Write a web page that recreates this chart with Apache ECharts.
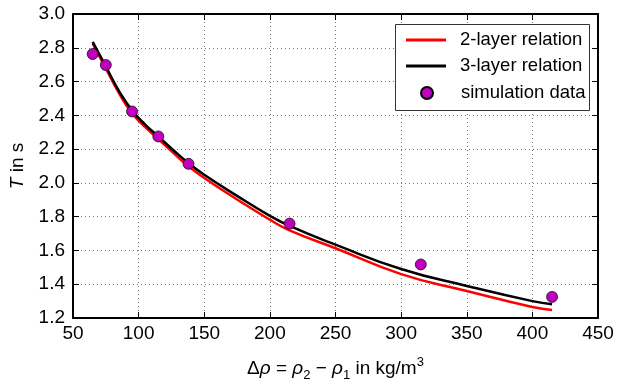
<!DOCTYPE html>
<html>
<head>
<meta charset="utf-8">
<script src="https://cdn.jsdelivr.net/npm/echarts@6/dist/echarts.min.js"></script>
<style>
html,body{margin:0;padding:0;background:#fff;}
#chart{width:618px;height:387px;}
</style>
</head>
<body>
<div id="chart"></div>
<script>
// Curve sample positions (Δρ in kg/m³) and read-off values (T in s)
var curveX = [65, 75, 85, 95, 105, 115, 127, 138, 150, 175, 200, 215, 250, 300, 350, 400, 415];
var twoLayerT = [2.825, 2.678, 2.532, 2.412, 2.330, 2.260, 2.173, 2.098, 2.029, 1.902, 1.782, 1.719, 1.613, 1.460, 1.360, 1.265, 1.248];
var threeLayerT = [2.835, 2.690, 2.545, 2.430, 2.345, 2.275, 2.190, 2.117, 2.048, 1.923, 1.805, 1.745, 1.634, 1.490, 1.390, 1.300, 1.282];
// Simulation data points
var simX = [65, 75, 95, 115, 138, 215, 315, 415];
var simT = [2.763, 2.698, 2.423, 2.275, 2.113, 1.759, 1.517, 1.325];
// Axis ticks
var xTicks = [50, 100, 150, 200, 250, 300, 350, 400, 450];
var yTicks = [1.2, 1.4, 1.6, 1.8, 2.0, 2.2, 2.4, 2.6, 2.8, 3.0];
var seriesNames = ['2-layer relation', '3-layer relation', 'simulation data'];

function pairs(xs, ys) { return xs.map(function (x, i) { return [x, ys[i]]; }); }

var FONT = '"Liberation Sans", Arial, Helvetica, sans-serif';
var chart = echarts.init(document.getElementById('chart'), null, {renderer: 'canvas'});

var gridLine = {show: true, lineStyle: {color: '#777', width: 1, type: [1, 3]}};
var frameLine = {show: true, onZero: false, lineStyle: {color: '#000', width: 2}};
var tickIn = {show: true, inside: true, length: 6, lineStyle: {color: '#000', width: 1}};

function legendText(pad) {
  return {
    color: '#000', fontSize: 18.5, fontFamily: FONT, lineHeight: 20,
    rich: {a: {color: '#000', fontSize: 18.5, fontFamily: FONT, lineHeight: 20, padding: [0, 0, 0, pad]}}
  };
}

var option = {
  animation: false,
  backgroundColor: '#fff',
  grid: {left: 71, right: 20, top: 14, bottom: 61, containLabel: false},
  xAxis: [{
    type: 'value', position: 'bottom',
    min: xTicks[0], max: xTicks[xTicks.length - 1], interval: xTicks[1] - xTicks[0],
    axisLine: frameLine, axisTick: tickIn, splitLine: gridLine,
    axisLabel: {color: '#000', fontSize: 19, fontFamily: FONT, margin: 6},
    name: '{n|Δ}{i|ρ}{n| = }{i|ρ}{s|2}{n| − }{i|ρ}{s|1}{n| in kg/m}{p|3}',
    nameLocation: 'middle', nameGap: 38,
    nameTextStyle: {
      color: '#000', fontFamily: FONT, fontSize: 19,
      rich: {
        n: {fontSize: 19, fontFamily: FONT, color: '#000', lineHeight: 26, verticalAlign: 'middle'},
        i: {fontSize: 19, fontFamily: FONT, fontStyle: 'italic', color: '#000', lineHeight: 26, verticalAlign: 'middle'},
        s: {fontSize: 13, fontFamily: FONT, color: '#000', lineHeight: 26, verticalAlign: 'bottom'},
        p: {fontSize: 13, fontFamily: FONT, color: '#000', lineHeight: 26, verticalAlign: 'top'}
      }
    }
  }, {
    type: 'value', position: 'top',
    min: xTicks[0], max: xTicks[xTicks.length - 1], interval: xTicks[1] - xTicks[0],
    axisLine: frameLine, axisTick: tickIn, splitLine: {show: false}, axisLabel: {show: false}
  }],
  yAxis: [{
    type: 'value', position: 'left',
    min: yTicks[0], max: yTicks[yTicks.length - 1], interval: 0.2,
    axisLine: frameLine, axisTick: tickIn, splitLine: gridLine,
    axisLabel: {color: '#000', fontSize: 19, fontFamily: FONT, margin: 8,
      formatter: function (v) { return v.toFixed(1); }},
    name: '{i|T}{n| in s}', nameLocation: 'middle', nameRotate: 90, nameGap: 46,
    nameTextStyle: {
      color: '#000', fontFamily: FONT, fontSize: 19,
      rich: {
        n: {fontSize: 19, fontFamily: FONT, color: '#000'},
        i: {fontSize: 19, fontFamily: FONT, fontStyle: 'italic', color: '#000'}
      }
    }
  }, {
    type: 'value', position: 'right',
    min: yTicks[0], max: yTicks[yTicks.length - 1], interval: 0.2,
    axisLine: frameLine, axisTick: tickIn, splitLine: {show: false}, axisLabel: {show: false}
  }],
  graphic: [{
    type: 'rect', left: 395, top: 24, z: 50,
    shape: {width: 194, height: 86},
    style: {fill: '#fff', stroke: '#333', lineWidth: 1}
  }],
  legend: [{
    data: [seriesNames[0], seriesNames[1]],
    orient: 'vertical', left: 401, top: 25, z: 60,
    itemWidth: 40, itemHeight: 3, itemGap: 6, icon: 'rect',
    formatter: function (n) { return '{a|' + n + '}'; },
    textStyle: legendText(9)
  }, {
    data: [seriesNames[2]],
    orient: 'vertical', left: 415, top: 78, z: 60,
    itemWidth: 12, itemHeight: 12, icon: 'circle',
    formatter: function (n) { return '{a|' + n + '}'; },
    textStyle: legendText(23)
  }],
  series: [{
    name: seriesNames[0], type: 'line', smooth: 0.5, symbol: 'none',
    xAxisIndex: 0, yAxisIndex: 0, z: 3,
    lineStyle: {color: '#ff0000', width: 2.5}, itemStyle: {color: '#ff0000'},
    data: pairs(curveX, twoLayerT)
  }, {
    name: seriesNames[1], type: 'line', smooth: 0.5, symbol: 'none',
    xAxisIndex: 0, yAxisIndex: 0, z: 4,
    lineStyle: {color: '#000000', width: 2.5}, itemStyle: {color: '#000000'},
    data: pairs(curveX, threeLayerT)
  }, {
    name: seriesNames[2], type: 'scatter', symbol: 'circle', symbolSize: 11,
    xAxisIndex: 0, yAxisIndex: 0, z: 5,
    itemStyle: {color: '#bf00bf', borderColor: '#000', borderWidth: 0.7, opacity: 1},
    data: pairs(simX, simT)
  }]
};
chart.setOption(option);
</script>
</body>
</html>
